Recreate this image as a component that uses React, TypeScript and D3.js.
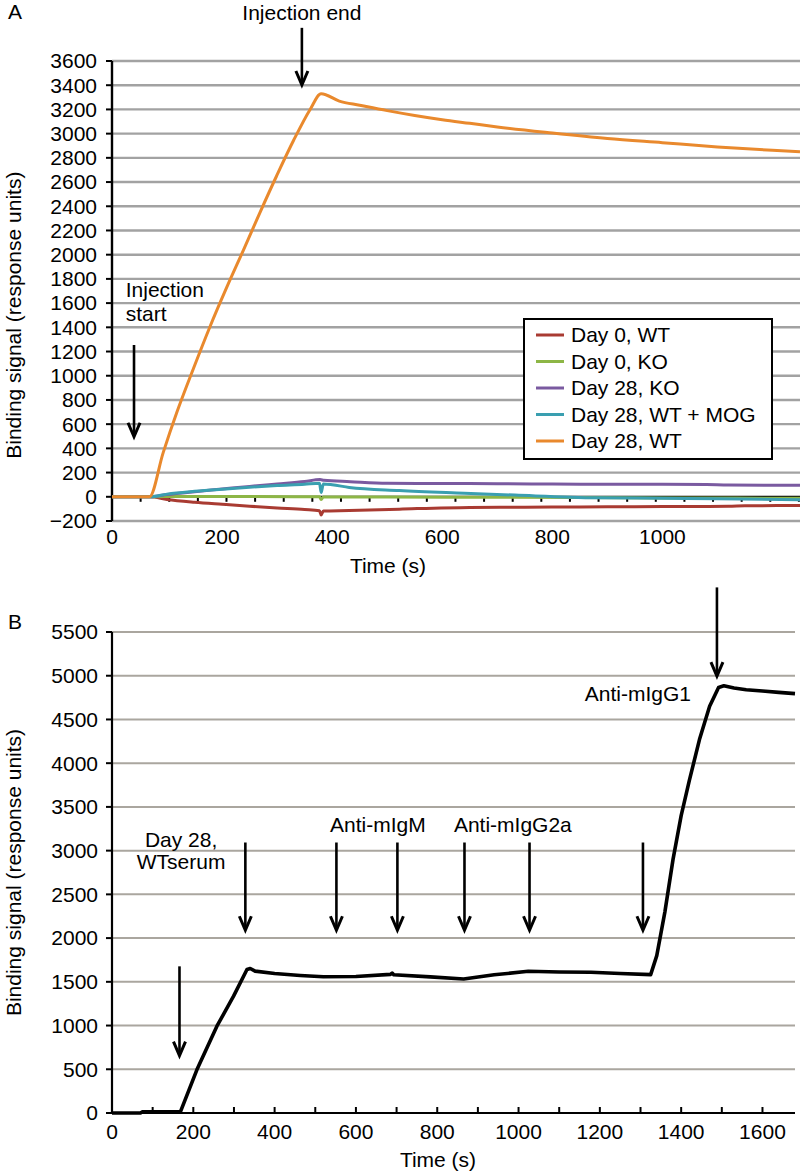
import React, { useEffect, useRef } from 'react';
import * as d3 from 'd3';

type Pt = [number, number];

// Panel A: time (s) vs binding signal (RU)
const day0WT: Pt[] = [[0, 0], [69, 0], [100, -22], [150, -45], [200, -62], [250, -78], [300, -92], [350, -105], [377, -115], [380, -150], [384, -118], [431, -114], [522, -102], [650, -88], [750, -86], [850, -84], [950, -82], [1050, -80], [1120, -79], [1150, -74], [1250, -72]];
const day0KO: Pt[] = [[0, 0], [69, 0], [120, 3], [250, 2], [377, 0], [380, -22], [384, -2], [500, -2], [700, -4], [850, -6], [1000, -9], [1250, -12]];
const day28KO: Pt[] = [[0, 0], [69, 0], [100, 18], [150, 42], [200, 64], [250, 86], [300, 106], [350, 126], [378, 142], [385, 136], [433, 125], [500, 112], [600, 110], [700, 108], [800, 105], [900, 104], [1000, 103], [1080, 101], [1120, 97], [1250, 95]];
const day28MOG: Pt[] = [[0, 0], [69, 0], [100, 22], [150, 45], [200, 63], [250, 79], [300, 93], [350, 104], [377, 112], [380, 35], [384, 106], [400, 100], [431, 77], [522, 52], [640, 30], [732, 14], [880, -8], [1000, -12], [1100, -16], [1250, -25]];
const day28WT: Pt[] = [[0, 0], [68, 0], [93, 365], [118, 700], [148, 1060], [178, 1405], [208, 1725], [239, 2040], [269, 2350], [299, 2650], [330, 2945], [360, 3200], [380, 3330], [413, 3269], [450, 3235], [500, 3190], [550, 3150], [600, 3115], [650, 3085], [700, 3055], [800, 3005], [900, 2960], [1000, 2925], [1100, 2890], [1200, 2862], [1250, 2850]];

const seriesA = [day0WT, day0KO, day28KO, day28MOG, day28WT];
const legendLabels = ['Day 0, WT', 'Day 0, KO', 'Day 28, KO', 'Day 28, WT + MOG', 'Day 28, WT'];
const legendColors = ['#a93b32', '#8db646', '#7a5aa0', '#3a9fb0', '#e9892d'];

const yTicksA = [-200, 0, 200, 400, 600, 800, 1000, 1200, 1400, 1600, 1800, 2000, 2200, 2400, 2600, 2800, 3000, 3200, 3400, 3600];
const xLabelsA = [0, 200, 400, 600, 800, 1000];

// Panel B: single sensorgram
const wtSerum: Pt[] = [[0, 0], [70, 0], [75, 15], [165, 15], [168, 10], [209, 496], [258, 992], [299, 1336], [332, 1641], [340, 1652], [352, 1622], [400, 1595], [463, 1573], [520, 1558], [600, 1560], [685, 1585], [689, 1600], [693, 1580], [783, 1556], [865, 1533], [940, 1580], [1024, 1620], [1100, 1612], [1178, 1609], [1250, 1595], [1325, 1582], [1340, 1800], [1360, 2300], [1380, 2900], [1400, 3400], [1420, 3800], [1445, 4270], [1470, 4650], [1492, 4866], [1505, 4885], [1530, 4860], [1560, 4840], [1600, 4825], [1640, 4810], [1680, 4795]];

const yTicksB = [0, 500, 1000, 1500, 2000, 2500, 3000, 3500, 4000, 4500, 5000, 5500];
const xLabelsB = [0, 200, 400, 600, 800, 1000, 1200, 1400, 1600];

// injection arrows in panel B (time, top value, tip value)
const arrowsB: [number, number, number][] = [
  [166, 1677, 656],
  [328, 3093, 2090],
  [552, 3093, 2090],
  [702, 3093, 2090],
  [867, 3093, 2090],
  [1027, 3093, 2090],
  [1306, 3093, 2090],
  [1488, 6010, 4996],
];

const minus = (v: number) => String(v).replace('-', '\u2212');

export default function App() {
  const svgRef = useRef<SVGSVGElement>(null);

  useEffect(() => {
    if (!svgRef.current) return;
    const svg = d3.select(svgRef.current);
    svg.selectAll('*').remove();
    svg.attr('font-family', '"Liberation Sans", Arial, Helvetica, sans-serif').attr('font-size', 21);

    const arrow = (g: any, x: number, y1: number, y2: number) => {
      g.append('line').attr('x1', x).attr('x2', x).attr('y1', y1).attr('y2', y2 - 3)
        .attr('stroke', '#000').attr('stroke-width', 2.6);
      g.append('path').attr('d', `M${x - 6},${y2 - 14}L${x},${y2}L${x + 6},${y2 - 14}`)
        .attr('fill', 'none').attr('stroke', '#000').attr('stroke-width', 3);
    };

    // ---------- Panel A ----------
    const xA = d3.scaleLinear().domain([0, 1250]).range([112, 800]);
    const yA = d3.scaleLinear().domain([-200, 3600]).range([521, 61]);
    const gA = svg.append('g');

    gA.append('text').attr('x', 8).attr('y', 12).attr('dy', '0.35em').text('A');

    gA.selectAll('.grid').data(yTicksA.filter(v => v !== 0)).join('line')
      .attr('x1', xA(0)).attr('x2', 800)
      .attr('y1', d => yA(d)).attr('y2', d => yA(d))
      .attr('stroke', '#a2a2a2').attr('stroke-width', 2.4);

    // y axis
    gA.append('line').attr('x1', xA(0)).attr('x2', xA(0)).attr('y1', yA(3600)).attr('y2', yA(-200))
      .attr('stroke', '#000').attr('stroke-width', 2.4);
    gA.selectAll('.ytick').data(yTicksA).join('line')
      .attr('x1', xA(0) - 6).attr('x2', xA(0)).attr('y1', d => yA(d)).attr('y2', d => yA(d))
      .attr('stroke', '#000').attr('stroke-width', 2);
    gA.selectAll('.ylab').data(yTicksA).join('text')
      .attr('x', 97).attr('y', d => yA(d)).attr('dy', '0.35em').attr('text-anchor', 'end')
      .text(d => minus(d));

    // zero line with minor ticks
    gA.append('line').attr('x1', xA(0)).attr('x2', 800).attr('y1', yA(0)).attr('y2', yA(0))
      .attr('stroke', '#000').attr('stroke-width', 2);
    gA.selectAll('.xtick').data(d3.range(52, 1250, 52)).join('line')
      .attr('x1', d => xA(d)).attr('x2', d => xA(d)).attr('y1', yA(0)).attr('y2', yA(0) + 5)
      .attr('stroke', '#000').attr('stroke-width', 2);
    gA.selectAll('.xlab').data(xLabelsA).join('text')
      .attr('x', d => xA(d)).attr('y', 537).attr('dy', '0.35em').attr('text-anchor', 'middle')
      .text(d => d);
    gA.append('text').attr('x', 388).attr('y', 566).attr('dy', '0.35em').attr('text-anchor', 'middle').text('Time (s)');
    gA.append('text').attr('transform', `translate(14,${yA(1500)}) rotate(-90)`)
      .attr('dy', '0.35em').attr('text-anchor', 'middle').text('Binding signal (response units)');

    const lineA = d3.line<Pt>().x(d => xA(d[0])).y(d => yA(d[1])).curve(d3.curveMonotoneX);
    seriesA.forEach((s, i) => {
      gA.append('path').attr('d', lineA(s)).attr('fill', 'none')
        .attr('stroke', legendColors[i]).attr('stroke-width', 3).attr('stroke-linejoin', 'round');
    });

    // annotations
    gA.append('text').attr('x', xA(345)).attr('y', 13).attr('dy', '0.35em').attr('text-anchor', 'middle').text('Injection end');
    arrow(gA, xA(345), yA(3874), yA(3402));
    gA.append('text').attr('x', xA(25)).attr('y', yA(1708)).attr('dy', '0.35em').text('Injection');
    gA.append('text').attr('x', xA(25)).attr('y', yA(1510)).attr('dy', '0.35em').text('start');
    arrow(gA, xA(40), yA(1254), yA(496));

    // legend
    const lg = gA.append('g');
    lg.append('rect').attr('x', 524).attr('y', 319).attr('width', 248).attr('height', 140)
      .attr('fill', '#fff').attr('stroke', '#000').attr('stroke-width', 2);
    legendLabels.forEach((lab, i) => {
      const y = 335 + i * 26.5;
      lg.append('line').attr('x1', 536).attr('x2', 564).attr('y1', y).attr('y2', y)
        .attr('stroke', legendColors[i]).attr('stroke-width', 3);
      lg.append('text').attr('x', 571).attr('y', y).attr('dy', '0.35em').text(lab);
    });

    // ---------- Panel B ----------
    const xB = d3.scaleLinear().domain([0, 1680]).range([112, 795]);
    const yB = d3.scaleLinear().domain([0, 5500]).range([1113, 632]);
    const gB = svg.append('g');

    gB.append('text').attr('x', 8).attr('y', 622).attr('dy', '0.35em').text('B');

    gB.selectAll('.grid').data(yTicksB.filter(v => v !== 0)).join('line')
      .attr('x1', xB(0)).attr('x2', 795)
      .attr('y1', d => yB(d)).attr('y2', d => yB(d))
      .attr('stroke', '#aaa69f').attr('stroke-width', 2);

    gB.append('line').attr('x1', xB(0)).attr('x2', xB(0)).attr('y1', yB(5500)).attr('y2', yB(0))
      .attr('stroke', '#000').attr('stroke-width', 2.2);
    gB.selectAll('.ytick').data(yTicksB).join('line')
      .attr('x1', xB(0) - 6).attr('x2', xB(0)).attr('y1', d => yB(d)).attr('y2', d => yB(d))
      .attr('stroke', '#000').attr('stroke-width', 2);
    gB.selectAll('.ylab').data(yTicksB).join('text')
      .attr('x', 98).attr('y', d => yB(d)).attr('dy', '0.35em').attr('text-anchor', 'end')
      .text(d => d);

    gB.append('line').attr('x1', xB(0)).attr('x2', 795).attr('y1', yB(0)).attr('y2', yB(0))
      .attr('stroke', '#000').attr('stroke-width', 2.2);
    gB.selectAll('.xtick').data(d3.range(100, 1680, 100)).join('line')
      .attr('x1', d => xB(d)).attr('x2', d => xB(d)).attr('y1', yB(0) - 6).attr('y2', yB(0))
      .attr('stroke', '#000').attr('stroke-width', 2);
    gB.selectAll('.xlab').data(xLabelsB).join('text')
      .attr('x', d => xB(d)).attr('y', 1132).attr('dy', '0.35em').attr('text-anchor', 'middle')
      .text(d => d);
    gB.append('text').attr('x', 438).attr('y', 1160).attr('dy', '0.35em').attr('text-anchor', 'middle').text('Time (s)');
    gB.append('text').attr('transform', `translate(14,${yB(2750)}) rotate(-90)`)
      .attr('dy', '0.35em').attr('text-anchor', 'middle').text('Binding signal (response units)');

    const lineB = d3.line<Pt>().x(d => xB(d[0])).y(d => yB(d[1]));
    gB.append('path').attr('d', lineB(wtSerum)).attr('fill', 'none')
      .attr('stroke', '#000').attr('stroke-width', 3.6).attr('stroke-linejoin', 'round');

    arrowsB.forEach(([t, top, tip]) => arrow(gB, xB(t), yB(top), yB(tip)));

    gB.append('text').attr('x', xB(170)).attr('y', yB(3130)).attr('dy', '0.35em').attr('text-anchor', 'middle').text('Day 28,');
    gB.append('text').attr('x', xB(170)).attr('y', yB(2870)).attr('dy', '0.35em').attr('text-anchor', 'middle').text('WTserum');
    gB.append('text').attr('x', xB(654)).attr('y', yB(3300)).attr('dy', '0.35em').attr('text-anchor', 'middle').text('Anti-mIgM');
    gB.append('text').attr('x', xB(986)).attr('y', yB(3300)).attr('dy', '0.35em').attr('text-anchor', 'middle').text('Anti-mIgG2a');
    gB.append('text').attr('x', xB(1424)).attr('y', yB(4797)).attr('dy', '0.35em').attr('text-anchor', 'end').text('Anti-mIgG1');
  }, []);

  return (
    <svg
      ref={svgRef}
      width={800}
      height={1171}
      style={{ position: 'absolute', left: 0, top: 0, background: '#fff' }}
    />
  );
}
